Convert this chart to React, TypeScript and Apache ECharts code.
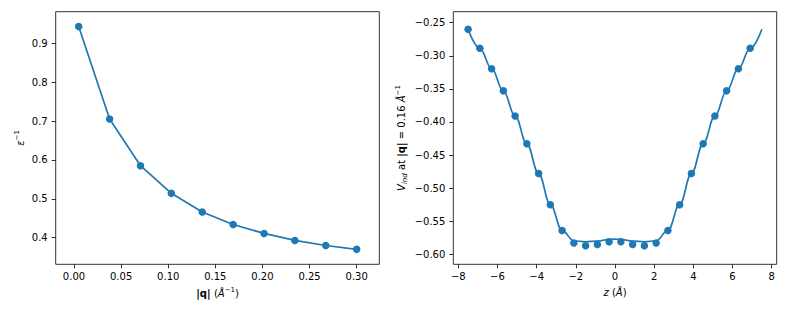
import React, { useEffect, useRef } from "react";
import * as echarts from "echarts";

// Left panel: inverse dielectric function vs |q|
const qValues = [0.005, 0.0378, 0.0706, 0.1033, 0.1361, 0.1689, 0.2017, 0.2344, 0.2672, 0.3];
const epsInv = [0.943, 0.705, 0.585, 0.514, 0.466, 0.434, 0.411, 0.393, 0.38, 0.37];
const qTicks = [0, 0.05, 0.1, 0.15, 0.2, 0.25, 0.3];
const epsTicks = [0.4, 0.5, 0.6, 0.7, 0.8, 0.9];

// Right panel: induced potential vs z (dots)
const zDots = [-7.5, -6.9, -6.3, -5.7, -5.1, -4.5, -3.9, -3.3, -2.7, -2.1, -1.5, -0.9, -0.3, 0.3, 0.9, 1.5, 2.1, 2.7, 3.3, 3.9, 4.5, 5.1, 5.7, 6.3, 6.9];
const vDots = [-0.26, -0.2887, -0.3195, -0.353, -0.391, -0.433, -0.478, -0.525, -0.564, -0.583, -0.587, -0.585, -0.581, -0.581, -0.585, -0.587, -0.583, -0.564, -0.525, -0.478, -0.433, -0.391, -0.353, -0.3195, -0.2887];
// Right panel: smooth curve
const zLine = [-7.5, -6.9, -6.3, -5.7, -5.1, -4.5, -3.9, -3.3, -2.7, -2.1, -1.5, -0.9, -0.3, 0, 0.3, 0.9, 1.5, 2.1, 2.7, 3.3, 3.9, 4.5, 5.1, 5.7, 6.3, 6.9, 7.5];
const vLine = [-0.26, -0.2887, -0.3195, -0.353, -0.391, -0.433, -0.478, -0.525, -0.564, -0.5795, -0.581, -0.58, -0.5775, -0.577, -0.5775, -0.58, -0.581, -0.5795, -0.564, -0.525, -0.478, -0.433, -0.391, -0.353, -0.3195, -0.2887, -0.26];
const zTicks = [-8, -6, -4, -2, 0, 2, 4, 6, 8];
const vTicks = [-0.6, -0.55, -0.5, -0.45, -0.4, -0.35, -0.3, -0.25];

const BLUE = "#1f77b4";
const FONT = "DejaVu Sans";

const minus = (s: string) => s.replace("-", "\u2212");

export default function App() {
  const ref = useRef<HTMLDivElement>(null);
  useEffect(() => {
    document.body.style.margin = "0";
    const chart = echarts.init(ref.current!, null, { renderer: "svg" });
    const baseLabel = { fontFamily: FONT, fontSize: 10, color: "#000" };
    const tick = { show: true, length: 4, inside: false, lineStyle: { color: "#000", width: 0.8 } };
    const noLine = { show: false, onZero: false };
    const nameRich = {
      n: { fontFamily: FONT, fontSize: 10, color: "#000" },
      b: { fontFamily: FONT, fontSize: 10, color: "#000", fontWeight: "bold" },
      i: { fontFamily: FONT, fontSize: 10, color: "#000", fontStyle: "italic" },
      s: { fontFamily: FONT, fontSize: 7, color: "#000", verticalAlign: "top", lineHeight: 14 },
      si: { fontFamily: FONT, fontSize: 7, color: "#000", fontStyle: "italic", verticalAlign: "bottom", lineHeight: 14 },
    };
    chart.setOption({
      animation: false,
      grid: [
        { left: 55.7, top: 11.7, width: 323.6, height: 252.6, show: true, borderColor: "#333", borderWidth: 1, backgroundColor: "transparent" },
        { left: 453.3, top: 11.7, width: 323.4, height: 252.6, show: true, borderColor: "#333", borderWidth: 1, backgroundColor: "transparent" },
      ],
      xAxis: [
        {
          type: "value", gridIndex: 0, min: -0.0194, max: 0.324,
          splitLine: { show: false }, axisLine: noLine,
          axisTick: { ...tick, customValues: qTicks },
          axisLabel: { ...baseLabel, margin: 7, customValues: qTicks, formatter: (v: number) => v.toFixed(2) },
          name: "{b||q|} {n|(}{i|Å}{s|−1}{n|)}", nameLocation: "middle", nameGap: 22,
          nameTextStyle: { rich: nameRich },
        },
        {
          type: "value", gridIndex: 1, min: -8.255, max: 8.255,
          splitLine: { show: false }, axisLine: noLine,
          axisTick: { ...tick, customValues: zTicks },
          axisLabel: { ...baseLabel, margin: 7, customValues: zTicks, formatter: (v: number) => minus(String(v)) },
          name: "{i|z} {n|(}{i|Å}{n|)}", nameLocation: "middle", nameGap: 22,
          nameTextStyle: { rich: nameRich },
        },
      ],
      yAxis: [
        {
          type: "value", gridIndex: 0, min: 0.3316, max: 0.981,
          splitLine: { show: false }, axisLine: noLine,
          axisTick: { ...tick, customValues: epsTicks },
          axisLabel: { ...baseLabel, margin: 8, customValues: epsTicks, formatter: (v: number) => v.toFixed(1) },
          name: "{i|ε}{s|−1}", nameLocation: "middle", nameGap: 28,
          nameTextStyle: { rich: nameRich },
        },
        {
          type: "value", gridIndex: 1, min: -0.6151, max: -0.2334,
          splitLine: { show: false }, axisLine: noLine,
          axisTick: { ...tick, customValues: vTicks },
          axisLabel: { ...baseLabel, margin: 8, customValues: vTicks, formatter: (v: number) => minus(v.toFixed(2)) },
          name: "{i|V}{si|ind}{n| at }{b||q|}{n| = 0.16 }{i|Å}{s|−1}", nameLocation: "middle", nameGap: 45,
          nameTextStyle: { rich: nameRich },
        },
      ],
      series: [
        {
          type: "line", xAxisIndex: 0, yAxisIndex: 0,
          data: qValues.map((q, i) => [q, epsInv[i]]),
          symbol: "circle", symbolSize: 7.5, showSymbol: true,
          itemStyle: { color: BLUE },
          lineStyle: { color: BLUE, width: 1.7 },
        },
        {
          type: "line", xAxisIndex: 1, yAxisIndex: 1,
          data: zLine.map((z, i) => [z, vLine[i]]),
          showSymbol: false, smooth: 0.4, smoothMonotone: "x",
          lineStyle: { color: BLUE, width: 1.7 },
          itemStyle: { color: BLUE },
        },
        {
          type: "scatter", xAxisIndex: 1, yAxisIndex: 1,
          data: zDots.map((z, i) => [z, vDots[i]]),
          symbol: "circle", symbolSize: 7.5,
          itemStyle: { color: BLUE, opacity: 1 },
        },
      ],
    });
    return () => chart.dispose();
  }, []);
  return <div ref={ref} style={{ width: 789, height: 316 }} />;
}
